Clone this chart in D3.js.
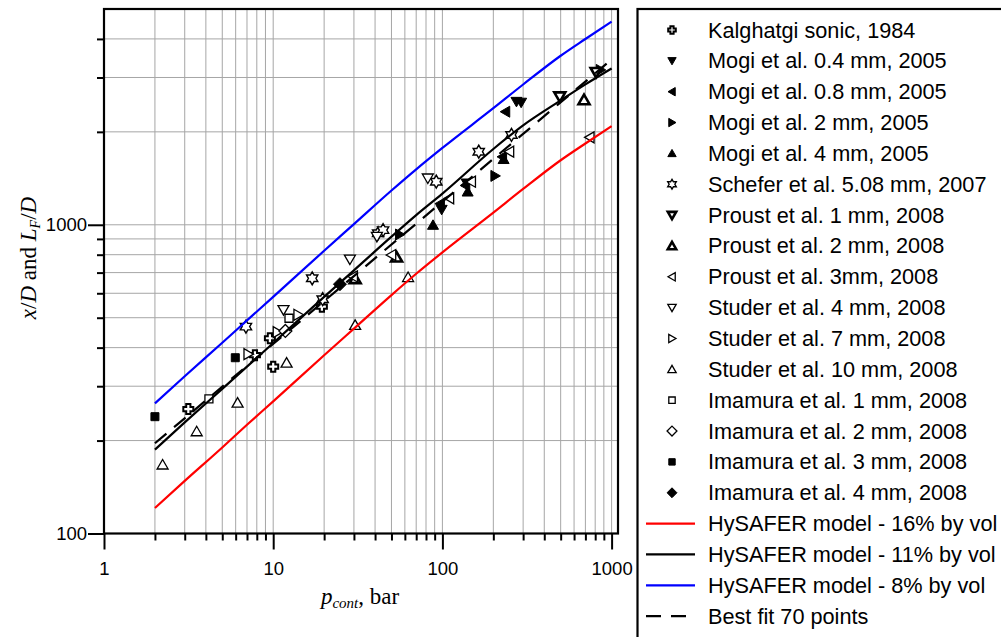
<!DOCTYPE html>
<html>
<head>
<meta charset="utf-8">
<script src="https://cdn.jsdelivr.net/npm/d3@7"></script>
<style>
body { margin: 0; background: #fff; }
svg { display: block; }
</style>
</head>
<body>
<svg id="chart" width="1001" height="637"></svg>
<script>
// model curves
const modelP = [2, 3, 5, 7, 10, 20, 30, 50, 70, 100, 200, 300, 500, 700, 1000]
const model16 = [121, 148, 190, 225, 268, 378, 461, 592, 694, 814, 1095, 1306, 1618, 1834, 2087]
const model11 = [187, 229, 294, 347, 414, 584, 712, 915, 1075, 1262, 1760, 2100, 2530, 2850, 3210]
const model8 = [264, 323, 415, 490, 584, 824, 1005, 1291, 1512, 1774, 2386, 2847, 3528, 3998, 4550]
const bestFitP = [2, 1000]
const bestFit = [196, 3430]

// experimental points [p_cont (bar), x/D]
const kalghatgi = [[3.15, 253], [7.8, 378], [9.56, 429], [10, 347], [19.4, 543]]
const mogi04 = [[99, 1120], [139, 1363], [274, 2506], [292, 2490]]
const mogi08 = [[97, 1170], [137, 1340], [226, 1660], [236, 2324]]
const mogi2 = [[56, 930], [205, 1440], [860, 3174]]
const mogi4 = [[88, 998], [141, 1279], [230, 1630]]
const schefer = [[6.9, 468], [17, 671], [19.6, 574], [41.7, 939], [44.6, 961], [92, 1379], [164, 1725], [256, 1954]]
const proust1 = [[494, 2600], [810, 3120]]
const proust2 = [[30.5, 668], [53.6, 785], [687, 2537]]
const proust3 = [[29.7, 680], [50, 798], [110, 1218], [148, 1379], [249, 1725], [743, 1920]]
const studer4 = [[11.5, 530], [28.4, 773], [41, 915], [82, 1415]]
const studer7 = [[7.12, 381], [10.6, 449], [14.05, 511]]
const studer10 = [[2.22, 167], [3.53, 214], [6.16, 265], [12, 357], [30.5, 473], [62.7, 676]]
const imamura1 = [[4.17, 273], [12.4, 498]]
const imamura2 = [[11.8, 453]]
const imamura3 = [[2.0, 239], [5.97, 371]]
const imamura4 = [[24.8, 642]]

const xMajor = [1, 10, 100, 1000]
const yMajor = [100, 1000]

const series = [
    { name: 'Kalghatgi sonic, 1984', data: kalghatgi, shape: 'plus', fill: '#fff', sw: 2 },
    { name: 'Mogi et al. 0.4 mm, 2005', data: mogi04, shape: 'down', fill: '#000', sw: 1 },
    { name: 'Mogi et al. 0.8 mm, 2005', data: mogi08, shape: 'left', fill: '#000', sw: 1 },
    { name: 'Mogi et al. 2 mm, 2005', data: mogi2, shape: 'right', fill: '#000', sw: 1 },
    { name: 'Mogi et al. 4 mm, 2005', data: mogi4, shape: 'up', fill: '#000', sw: 1 },
    { name: 'Schefer et al. 5.08 mm, 2007', data: schefer, shape: 'star', fill: '#fff', sw: 1.4 },
    { name: 'Proust et al. 1 mm, 2008', data: proust1, shape: 'down', fill: '#fff', sw: 2.6 },
    { name: 'Proust et al. 2 mm, 2008', data: proust2, shape: 'up', fill: '#fff', sw: 2.6 },
    { name: 'Proust et al. 3mm, 2008', data: proust3, shape: 'left', fill: '#fff', sw: 1.3 },
    { name: 'Studer et al. 4 mm, 2008', data: studer4, shape: 'down', fill: '#fff', sw: 1.3 },
    { name: 'Studer et al. 7 mm, 2008', data: studer7, shape: 'right', fill: '#fff', sw: 1.3 },
    { name: 'Studer et al. 10 mm, 2008', data: studer10, shape: 'up', fill: '#fff', sw: 1.3 },
    { name: 'Imamura et al. 1 mm, 2008', data: imamura1, shape: 'square', fill: '#fff', sw: 1.3 },
    { name: 'Imamura et al. 2 mm, 2008', data: imamura2, shape: 'diamond', fill: '#fff', sw: 1.3 },
    { name: 'Imamura et al. 3 mm, 2008', data: imamura3, shape: 'square', fill: '#000', sw: 1 },
    { name: 'Imamura et al. 4 mm, 2008', data: imamura4, shape: 'diamond', fill: '#000', sw: 1 }
]

const lines = [
    { name: 'HySAFER model - 16% by vol', p: modelP, v: model16, color: '#ff0000', dash: null },
    { name: 'HySAFER model - 11% by vol', p: modelP, v: model11, color: '#000000', dash: null },
    { name: 'HySAFER model - 8% by vol', p: modelP, v: model8, color: '#0000ff', dash: null },
    { name: 'Best fit 70 points', p: bestFitP, v: bestFit, color: '#000000', dash: '15,10' }
]

const plot = { left: 104, right: 618, top: 9, bottom: 533.5 }
const sans = 'Arial, "Liberation Sans", sans-serif'
const serif = '"Times New Roman", "Liberation Serif", serif'

let svg = d3.select('#chart')

let xScale = d3.scaleLog()
    .domain([1, 1091])
    .range([plot.left, plot.right])

let yScale = d3.scaleLog()
    .domain([100, 5000])
    .range([plot.bottom, plot.top])

let xMinor = []
let yMinor = []
for (let d = 1; d <= 100; d *= 10) {
    for (let k = 2; k <= 9; k++) xMinor.push(k * d)
}
for (let k = 2; k <= 9; k++) yMinor.push(k * 100)
for (let k = 2; k <= 4; k++) yMinor.push(k * 1000)

// grid
let grid = svg.append('g')
grid.selectAll('.vg')
    .data(xMinor.concat([10, 100, 1000]))
    .enter().append('line')
    .attr('x1', d => xScale(d)).attr('x2', d => xScale(d))
    .attr('y1', plot.top).attr('y2', plot.bottom)
    .attr('stroke', '#a6a6a6').attr('stroke-width', 1)
grid.selectAll('.hg')
    .data(yMinor.concat([1000]))
    .enter().append('line')
    .attr('x1', plot.left).attr('x2', plot.right)
    .attr('y1', d => yScale(d)).attr('y2', d => yScale(d))
    .attr('stroke', '#a6a6a6').attr('stroke-width', 1)

// axes
function styleAxis(g) {
    g.select('.domain').remove()
    g.selectAll('line').attr('stroke', '#000').attr('stroke-width', 2)
    g.selectAll('text').attr('font-family', sans).attr('font-size', 18.5).attr('fill', '#000')
}

svg.append('g')
    .attr('transform', `translate(0,${plot.bottom})`)
    .call(d3.axisBottom(xScale).tickValues(xMinor).tickSize(7).tickFormat(''))
    .call(styleAxis)
svg.append('g')
    .attr('transform', `translate(0,${plot.bottom})`)
    .call(d3.axisBottom(xScale).tickValues(xMajor).tickSize(16).tickPadding(12).tickFormat(d3.format('d')))
    .call(styleAxis)
svg.append('g')
    .attr('transform', `translate(${plot.left},0)`)
    .call(d3.axisLeft(yScale).tickValues(yMinor).tickSize(7).tickFormat(''))
    .call(styleAxis)
svg.append('g')
    .attr('transform', `translate(${plot.left},0)`)
    .call(d3.axisLeft(yScale).tickValues(yMajor).tickSize(16).tickPadding(1).tickFormat(d3.format('d')))
    .call(styleAxis)

svg.append('rect')
    .attr('x', plot.left).attr('y', plot.top)
    .attr('width', plot.right - plot.left).attr('height', plot.bottom - plot.top)
    .attr('fill', 'none').attr('stroke', '#000').attr('stroke-width', 2.2)

// markers
function markerPath(shape, s) {
    if (shape === 'square') return `M${-s},${-s}h${2 * s}v${2 * s}h${-2 * s}Z`
    if (shape === 'diamond') { let r = s * 1.3; return `M0,${-r}L${r},0L0,${r}L${-r},0Z` }
    if (shape === 'plus') {
        let t = s * 0.42
        return `M${-t},${-s}H${t}V${-t}H${s}V${t}H${t}V${s}H${-t}V${t}H${-s}V${-t}H${-t}Z`
    }
    if (shape === 'star') {
        let pts = []
        for (let k = 0; k < 12; k++) {
            let a = (k * 30 - 90) * Math.PI / 180
            let r = k % 2 === 0 ? s * 1.3 : s * 1.3 / Math.sqrt(3)
            pts.push([r * Math.cos(a), r * Math.sin(a)])
        }
        return 'M' + pts.map(p => p[0].toFixed(2) + ',' + p[1].toFixed(2)).join('L') + 'Z'
    }
    // triangle pointing up, rotated for other directions
    return `M0,${-s * 1.05}L${s * 1.1},${s * 0.85}L${-s * 1.1},${s * 0.85}Z`
}
const rot = { up: 0, down: 180, left: -90, right: 90 }

function drawMarker(g, d, x, y, s) {
    g.append('path')
        .attr('d', markerPath(d.shape, s))
        .attr('transform', `translate(${x},${y}) rotate(${rot[d.shape] || 0})`)
        .attr('fill', d.fill)
        .attr('stroke', '#000')
        .attr('stroke-width', d.sw)
        .attr('stroke-linejoin', 'miter')
}

let marks = svg.append('g')
series.forEach(sr => {
    sr.data.forEach(pt => drawMarker(marks, sr, xScale(pt[0]), yScale(pt[1]), sr.shape === 'square' ? 4 : 5))
})

// model lines
svg.append('clipPath').attr('id', 'clip')
    .append('rect')
    .attr('x', plot.left).attr('y', plot.top)
    .attr('width', plot.right - plot.left).attr('height', plot.bottom - plot.top)

let lineGen = d3.line()
    .x(d => xScale(d[0]))
    .y(d => yScale(d[1]))
    .curve(d3.curveMonotoneX)

let curves = svg.append('g').attr('clip-path', 'url(#clip)')
lines.forEach(l => {
    curves.append('path')
        .attr('d', lineGen(l.p.map((p, i) => [p, l.v[i]])))
        .attr('fill', 'none')
        .attr('stroke', l.color)
        .attr('stroke-width', 2.2)
        .attr('stroke-dasharray', l.dash)
})

// axis titles
let yt = svg.append('text')
    .attr('transform', 'translate(36,258) rotate(-90)')
    .attr('text-anchor', 'middle')
    .attr('font-family', serif)
    .attr('font-size', 23)
yt.append('tspan').attr('font-style', 'italic').text('x')
yt.append('tspan').text('/')
yt.append('tspan').attr('font-style', 'italic').text('D')
yt.append('tspan').text(' and ')
yt.append('tspan').attr('font-style', 'italic').text('L')
yt.append('tspan').attr('font-style', 'italic').attr('font-size', 14).attr('dy', 4).text('F')
yt.append('tspan').attr('dy', -4).text('/')
yt.append('tspan').attr('font-style', 'italic').text('D')

let xt = svg.append('text')
    .attr('x', 360).attr('y', 604)
    .attr('text-anchor', 'middle')
    .attr('font-family', serif)
    .attr('font-size', 23)
xt.append('tspan').attr('font-style', 'italic').text('p')
xt.append('tspan').attr('font-style', 'italic').attr('font-size', 15).attr('dy', 4).text('cont')
xt.append('tspan').attr('dy', -4).text(', bar')

// legend
let legend = svg.append('g')
legend.append('rect')
    .attr('x', 637.5).attr('y', 9)
    .attr('width', 420).attr('height', 700)
    .attr('fill', '#fff').attr('stroke', '#000').attr('stroke-width', 2.2)

const rowY = i => 30 + i * 30.85
series.forEach((sr, i) => {
    drawMarker(legend, sr, 672, rowY(i), sr.shape === 'square' ? 3.2 : 3.8)
    legend.append('text')
        .attr('x', 708).attr('y', rowY(i) + 7.5)
        .attr('font-family', sans).attr('font-size', 21.7)
        .text(sr.name)
})
lines.forEach((l, j) => {
    let i = series.length + j
    legend.append('line')
        .attr('x1', 646).attr('x2', 695)
        .attr('y1', rowY(i)).attr('y2', rowY(i))
        .attr('stroke', l.color).attr('stroke-width', 2.2)
        .attr('stroke-dasharray', l.dash)
    legend.append('text')
        .attr('x', 708).attr('y', rowY(i) + 7.5)
        .attr('font-family', sans).attr('font-size', 21.7)
        .text(l.name)
})
</script>
</body>
</html>
